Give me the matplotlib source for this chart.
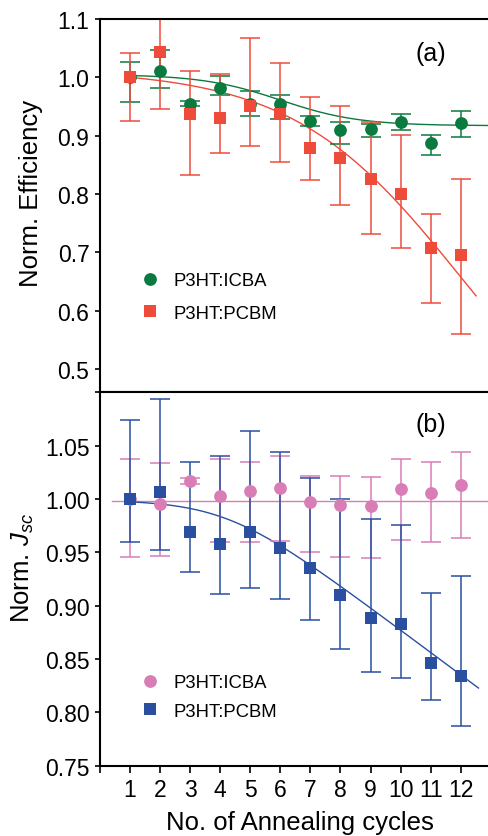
import numpy as np
import matplotlib
matplotlib.use("Agg")
import matplotlib.pyplot as plt
from matplotlib.lines import Line2D

plt.rcParams['font.family'] = ['Liberation Sans', 'DejaVu Sans']
plt.rcParams['mathtext.fontset'] = 'custom'
plt.rcParams['mathtext.rm'] = 'Liberation Sans'
plt.rcParams['mathtext.it'] = 'Liberation Sans:italic'

# ---------------- data ----------------
cycles = np.arange(1, 13)
cycle_labels = [str(c) for c in cycles]

# (a) normalised power-conversion efficiency (value, upper and lower error limits)
eff_icba = [1.000, 1.010, 0.955, 0.982, 0.955, 0.954, 0.925, 0.910, 0.912, 0.923, 0.888, 0.922]
eff_icba_hi = [1.026, 1.047, 0.959, 1.002, 0.976, 0.969, 0.934, 0.923, 0.920, 0.937, 0.901, 0.942]
eff_icba_lo = [0.957, 0.982, 0.951, 0.969, 0.934, 0.929, 0.917, 0.886, 0.897, 0.910, 0.866, 0.897]

eff_pcbm = [1.000, 1.044, 0.937, 0.930, 0.950, 0.937, 0.878, 0.862, 0.826, 0.800, 0.707, 0.695]
eff_pcbm_hi = [1.041, 1.144, 1.010, 1.005, 1.067, 1.025, 0.967, 0.951, 0.924, 0.901, 0.766, 0.825]
eff_pcbm_lo = [0.925, 0.945, 0.832, 0.870, 0.882, 0.855, 0.824, 0.781, 0.731, 0.708, 0.613, 0.560]

# (b) normalised short-circuit current density
jsc_icba = [1.000, 0.995, 1.017, 1.003, 1.0075, 1.010, 0.997, 0.994, 0.993, 1.009, 1.006, 1.013]
jsc_icba_hi = [1.0375, 1.034, 1.020, 1.0375, 1.035, 1.040, 1.022, 1.022, 1.021, 1.0375, 1.035, 1.044]
jsc_icba_lo = [0.946, 0.947, 1.014, 0.960, 0.960, 0.961, 0.950, 0.946, 0.945, 0.962, 0.960, 0.963]

jsc_pcbm = [1.000, 1.007, 0.969, 0.958, 0.969, 0.954, 0.935, 0.910, 0.888, 0.883, 0.846, 0.834]
jsc_pcbm_hi = [1.074, 1.094, 1.035, 1.040, 1.064, 1.044, 1.020, 1.000, 0.981, 0.976, 0.912, 0.928]
jsc_pcbm_lo = [0.960, 0.952, 0.932, 0.911, 0.917, 0.906, 0.887, 0.859, 0.838, 0.832, 0.812, 0.787]

# fitted trend curves
EFF_ICBA_FIT = (1.005, 0.917, 6.0, 1.3)     # Boltzmann: A1, A2, x0, dx
EFF_PCBM_FIT = (1.0137, 0.3017, 12.0, 2.8)  # Boltzmann: A1, A2, x0, dx
JSC_PCBM_FIT = (0.999, 0.0252, 4.2, 1.2)    # y0 - a*ln(1+exp((x-xc)/w))
JSC_ICBA_LEVEL = 0.998
EFF_PCBM_FIT_END = 12.51
JSC_PCBM_FIT_END = 12.59
JSC_ICBA_LINE_START = 0.4

GREEN = '#0B7A3E'
RED = '#EE4B3B'
BLUE = '#2A4FA0'
PINK = '#D97DB6'

XMAX = 12.907


def boltzmann(x, a1, a2, x0, dx):
    return a2 + (a1 - a2) / (1.0 + np.exp((x - x0) / dx))


def softplus_decay(x, y0, a, xc, w):
    return y0 - a * np.log1p(np.exp((x - xc) / w))


def yerr(v, hi, lo):
    v, hi, lo = map(np.asarray, (v, hi, lo))
    return np.vstack([v - lo, hi - v])


def draw_series(ax, y, hi, lo, marker, color):
    cont = ax.errorbar(cycles, y, yerr=yerr(y, hi, lo), ls='none', marker=marker,
                       ms=9.2, color=color, ecolor=color, elinewidth=1.1,
                       capsize=7, capthick=1.1, zorder=2)
    cont[0].set_markeredgewidth(0)
    return cont


W, H = 488, 837
fig = plt.figure(figsize=(W / 100, H / 100), dpi=100)
left = 100 / W
width = 1 - left
y_mid = 1 - 393.3 / H
y_top = 1 - 20 / H
y_bot = 1 - 766.7 / H
ax1 = fig.add_axes([left, y_mid, width, y_top - y_mid])
ax2 = fig.add_axes([left, y_bot, width, y_mid - y_bot])

# ---- panel (a)
xa = np.linspace(1, XMAX, 400)
ax1.plot(xa, boltzmann(xa, *EFF_ICBA_FIT), color=GREEN, lw=1.0, zorder=1.5)
xr = np.linspace(1, EFF_PCBM_FIT_END, 400)
ax1.plot(xr, boltzmann(xr, *EFF_PCBM_FIT), color=RED, lw=1.0, zorder=1.5)
draw_series(ax1, eff_icba, eff_icba_hi, eff_icba_lo, 'o', GREEN)
draw_series(ax1, eff_pcbm, eff_pcbm_hi, eff_pcbm_lo, 's', RED)

ax1.set_xlim(0, XMAX)
ax1.set_ylim(0.46, 1.1)
ya = np.arange(0.5, 1.101, 0.1)
ax1.set_yticks(ya)
ax1.set_yticklabels([f'{v:.1f}' for v in ya])
ax1.set_xticks(np.arange(0, 13))
ax1.tick_params(axis='x', direction='out', length=3.6, width=1.2, labelbottom=False)
ax1.tick_params(axis='y', direction='out', length=3.6, width=1.2, labelsize=16.5, pad=4)
ax1.set_ylabel('Norm. Efficiency', fontsize=18.5)
ax1.yaxis.set_label_coords(-0.148, 0.535)
ax1.text(0.853, 0.909, '(a)', transform=ax1.transAxes, fontsize=18,
         ha='center', va='center')

h1 = [Line2D([], [], ls='none', marker='o', color=GREEN, ms=9.2, mew=0),
      Line2D([], [], ls='none', marker='s', color=RED, ms=9.2, mew=0)]
ax1.legend(h1, ['P3HT:ICBA', 'P3HT:PCBM'], loc='upper left',
           bbox_to_anchor=(0.104, 0.322), frameon=False, fontsize=13.3,
           handlelength=1.0, handletextpad=0.79, borderpad=0, borderaxespad=0,
           labelspacing=0.85)

# ---- panel (b)
xi = np.linspace(JSC_ICBA_LINE_START, XMAX, 2)
ax2.plot(xi, np.full_like(xi, JSC_ICBA_LEVEL), color=PINK, lw=1.0, zorder=1.5)
xb = np.linspace(1, JSC_PCBM_FIT_END, 400)
ax2.plot(xb, softplus_decay(xb, *JSC_PCBM_FIT), color=BLUE, lw=1.0, zorder=1.5)
draw_series(ax2, jsc_icba, jsc_icba_hi, jsc_icba_lo, 'o', PINK)
draw_series(ax2, jsc_pcbm, jsc_pcbm_hi, jsc_pcbm_lo, 's', BLUE)

ax2.set_xlim(0, XMAX)
ax2.set_ylim(0.75, 1.10)
yt = np.arange(0.75, 1.101, 0.05)
ax2.set_yticks(yt)
ax2.set_yticklabels([f'{v:.2f}' for v in yt[:-1]] + [''])
ax2.set_xticks(np.arange(0, 13))
ax2.set_xticklabels([''] + cycle_labels)
ax2.tick_params(axis='x', direction='out', length=4.8, width=1.2, labelsize=16.5, pad=4)
ax2.tick_params(axis='y', direction='out', length=3.6, width=1.2, labelsize=16.5, pad=4)
ax2.set_ylabel(r'Norm. $J_{sc}$', fontsize=18.5)
ax2.yaxis.set_label_coords(-0.165, 0.532)
ax2.set_xlabel('No. of Annealing cycles', fontsize=18.5)
ax2.xaxis.set_label_coords(0.516, -0.119)
ax2.text(0.853, 0.915, '(b)', transform=ax2.transAxes, fontsize=18,
         ha='center', va='center')

h2 = [Line2D([], [], ls='none', marker='o', color=PINK, ms=9.2, mew=0),
      Line2D([], [], ls='none', marker='s', color=BLUE, ms=9.2, mew=0)]
ax2.legend(h2, ['P3HT:ICBA', 'P3HT:PCBM'], loc='upper left',
           bbox_to_anchor=(0.104, 0.245), frameon=False, fontsize=13.3,
           handlelength=1.0, handletextpad=0.79, borderpad=0, borderaxespad=0,
           labelspacing=0.63)

for ax in (ax1, ax2):
    ax.spines['right'].set_visible(False)
    for s in ('left', 'top', 'bottom'):
        ax.spines[s].set_linewidth(1.5)

fig.savefig('out.png', dpi=100)
